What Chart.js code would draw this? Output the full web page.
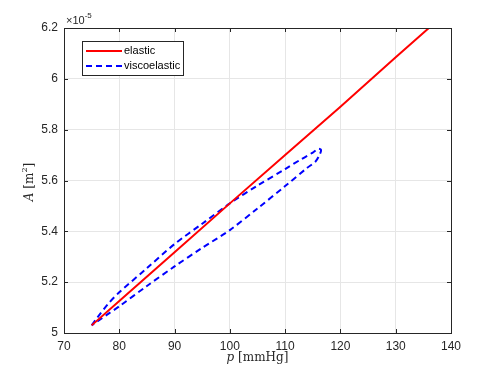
<!DOCTYPE html>
<html>
<head>
<meta charset="utf-8">
<script src="https://cdn.jsdelivr.net/npm/chart.js@4.4.0/dist/chart.umd.min.js"></script>
<style>
  html, body { margin: 0; padding: 0; background: #fff; }
  #wrap { width: 498px; height: 374px; }
</style>
</head>
<body>
<div id="wrap"><canvas id="myChart" width="498" height="374"></canvas></div>
<script>
// areas are in units of 1e-5 m^2 (exponent shown above the axis)
var elasticP = [75, 80, 90, 100, 110, 120, 130, 136];
var elasticA = [5.03, 5.126, 5.318, 5.51, 5.70, 5.89, 6.085, 6.2];

var viscoP = [75, 76, 78, 80, 85, 90, 95, 100, 105, 110, 113, 115, 116, 116.5, 116.2, 115.5, 114, 110, 105, 100, 95, 90, 85, 80, 78, 76, 75];
var viscoA = [5.03, 5.06, 5.115, 5.16, 5.255, 5.35, 5.43, 5.51, 5.58, 5.645, 5.685, 5.71, 5.725, 5.72, 5.70, 5.675, 5.65, 5.578, 5.49, 5.405, 5.335, 5.262, 5.185, 5.105, 5.075, 5.045, 5.03];

var xTicks = [70, 80, 90, 100, 110, 120, 130, 140];
var yTicks = [5, 5.2, 5.4, 5.6, 5.8, 6, 6.2];

var toPoints = function (xs, ys) {
    var pts = [];
    for (var i = 0; i < xs.length; i++) {
        pts.push({ x: xs[i], y: ys[i] });
    }
    return pts;
};

var sans = '"Liberation Sans", Arial, sans-serif';
var legendFont = '11px ' + sans;
var axisColor = '#262626';

// box + inward ticks on all four sides, like matlab
var boxPlugin = {
    id: 'box',
    afterDatasetsDraw: function (chart) {
        var c = chart.ctx, a = chart.chartArea;
        var xs = chart.scales.x, ys = chart.scales.y;
        c.save();
        c.strokeStyle = axisColor;
        c.lineWidth = 1;
        c.strokeRect(Math.round(a.left) + 0.5, Math.round(a.top) + 0.5,
            Math.round(a.right - a.left), Math.round(a.bottom - a.top));
        c.beginPath();
        xTicks.forEach(function (t) {
            var px = Math.round(xs.getPixelForValue(t)) + 0.5;
            c.moveTo(px, a.bottom); c.lineTo(px, a.bottom - 4);
            c.moveTo(px, a.top); c.lineTo(px, a.top + 4);
        });
        yTicks.forEach(function (t) {
            var py = Math.round(ys.getPixelForValue(t)) + 0.5;
            c.moveTo(a.left, py); c.lineTo(a.left + 4, py);
            c.moveTo(a.right, py); c.lineTo(a.right - 4, py);
        });
        c.stroke();
        c.restore();
    },
    afterDraw: function (chart) {
        var c = chart.ctx, a = chart.chartArea;
        c.save();
        c.fillStyle = axisColor;
        // x title: p [mmHg]
        var serif = '"DejaVu Serif", "Liberation Serif", serif';
        c.textBaseline = 'middle';
        c.font = 'italic 12px ' + serif;
        var w1 = c.measureText('p').width;
        c.font = '12px ' + serif;
        var w2 = c.measureText(' [mmHg]').width;
        var x0 = (a.left + a.right) / 2 - (w1 + w2) / 2;
        c.textAlign = 'left';
        c.font = 'italic 12px ' + serif;
        c.fillText('p', x0, 358);
        c.font = '12px ' + serif;
        c.fillText(' [mmHg]', x0 + w1, 358);

        // y title: A [m^2]
        c.save();
        c.translate(30, 182);
        c.rotate(-Math.PI / 2);
        c.font = 'italic 12px ' + serif;
        var wa = c.measureText('A').width;
        c.font = '12px ' + serif;
        var wb = c.measureText(' [m').width;
        var wc = c.measureText(']').width;
        c.font = '8px ' + serif;
        var ws = c.measureText('2').width;
        var sx = -(wa + wb + ws + wc) / 2;
        c.font = 'italic 12px ' + serif;
        c.fillText('A', sx, 0);
        c.font = '12px ' + serif;
        c.fillText(' [m', sx + wa, 0);
        c.font = '8px ' + serif;
        c.fillText('2', sx + wa + wb, -5);
        c.font = '12px ' + serif;
        c.fillText(']', sx + wa + wb + ws, 0);
        c.restore();

        // exponent label
        c.font = legendFont;
        c.textAlign = 'left';
        c.fillText('\u00d710', a.left + 2, 21);
        var we = c.measureText('\u00d710').width;
        c.font = '8px ' + sans;
        c.fillText('-5', a.left + 2 + we, 16);
        c.restore();
    }
};

var ctx = document.getElementById('myChart').getContext('2d');
var chart = new Chart(ctx, {
    type: 'scatter',
    data: {
        datasets: [{
            label: 'elastic',
            data: toPoints(elasticP, elasticA),
            showLine: true,
            borderColor: 'rgb(255, 0, 0)',
            backgroundColor: 'rgb(255, 0, 0)',
            borderWidth: 2,
            pointRadius: 0,
            tension: 0
        }, {
            label: 'viscoelastic',
            data: toPoints(viscoP, viscoA),
            showLine: true,
            borderColor: 'rgb(0, 0, 255)',
            backgroundColor: 'rgb(0, 0, 255)',
            borderWidth: 2,
            borderDash: [6, 4],
            pointRadius: 0,
            tension: 0.3
        }]
    },
    options: {
        responsive: false,
        animation: false,
        layout: { padding: { top: 28, right: 47, left: 0, bottom: 0 } },
        plugins: {
            legend: { display: false },
            tooltip: { enabled: false }
        },
        scales: {
            x: {
                type: 'linear',
                min: 70, max: 140,
                afterBuildTicks: function (s) { s.ticks = xTicks.map(function (v) { return { value: v }; }); },
                afterFit: function (s) { s.height = 41; },
                grid: { color: '#e6e6e6', drawTicks: false },
                border: { display: false },
                ticks: {
                    color: axisColor,
                    font: { family: sans, size: 12 },
                    padding: 6,
                    maxRotation: 0
                }
            },
            y: {
                type: 'linear',
                min: 5, max: 6.2,
                afterBuildTicks: function (s) { s.ticks = yTicks.map(function (v) { return { value: v }; }); },
                afterFit: function (s) { s.width = 64; },
                grid: { color: '#e6e6e6', drawTicks: false },
                border: { display: false },
                ticks: {
                    color: axisColor,
                    font: { family: sans, size: 12 },
                    padding: 6,
                    callback: function (v) { return String(Math.round(v * 10) / 10); }
                }
            }
        }
    },
    plugins: [boxPlugin, {
        // legend box top-left inside the axes
        id: 'innerLegend',
        afterDraw: function (chart) {
            var c = chart.ctx;
            var bx = 82, by = 41, bw = 101, bh = 34;
            c.save();
            c.fillStyle = '#fff';
            c.fillRect(bx, by, bw, bh);
            c.strokeStyle = axisColor;
            c.lineWidth = 1;
            c.strokeRect(bx + 0.5, by + 0.5, bw, bh);
            chart.data.datasets.forEach(function (ds, i) {
                var ly = by + 10 + i * 15;
                c.beginPath();
                c.strokeStyle = ds.borderColor;
                c.lineWidth = 2;
                c.setLineDash(ds.borderDash || []);
                c.moveTo(bx + 4, ly); c.lineTo(bx + 40, ly);
                c.stroke();
                c.setLineDash([]);
                c.fillStyle = '#000';
                c.font = legendFont;
                c.textBaseline = 'middle';
                c.textAlign = 'left';
                c.fillText(ds.label, bx + 42, ly);
            });
            c.restore();
        }
    }]
});
</script>
</body>
</html>
